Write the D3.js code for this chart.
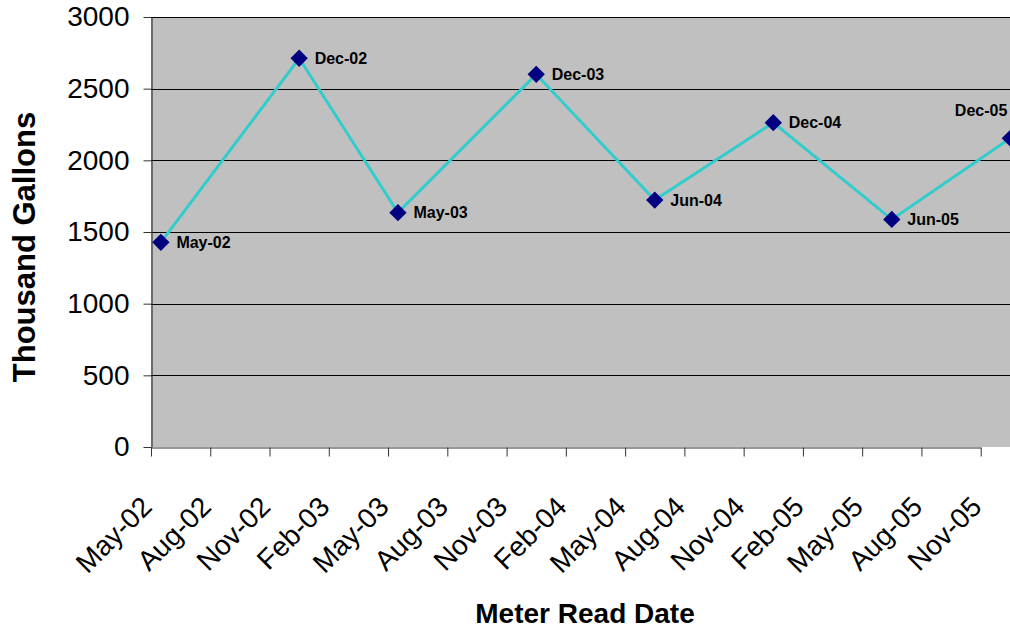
<!DOCTYPE html>
<html>
<head>
<meta charset="utf-8">
<script src="https://cdn.jsdelivr.net/npm/d3@7"></script>
<style>
  html, body { margin: 0; padding: 0; background: #fff; }
  svg { display: block; font-family: Arial, "Liberation Sans", sans-serif; }
</style>
</head>
<body>
<svg id="chart" width="1010" height="630"></svg>
<script>
// ---- data ----
const tickLabels = ["May-02", "Aug-02", "Nov-02", "Feb-03", "May-03", "Aug-03", "Nov-03",
                    "Feb-04", "May-04", "Aug-04", "Nov-04", "Feb-05", "May-05", "Aug-05", "Nov-05"];
const readDates = ["May-02", "Dec-02", "May-03", "Dec-03", "Jun-04", "Dec-04", "Jun-05", "Dec-05"];
const gallons   = [1428, 2712, 1635, 2600, 1723, 2263, 1588, 2154];
const yTicks    = [0, 500, 1000, 1500, 2000, 2500, 3000];

(function () {
// ---- helpers ----
const parse = d3.timeParse("%b-%y");
const base = parse("May-02");
const monthIndex = s => { const d = parse(s); return (d.getFullYear() - base.getFullYear()) * 12 + d.getMonth() - base.getMonth(); };

const W = 1010;
const pLeft = 151, pTop = 17, pBottom = 447;
const svg = d3.select("#chart");

const x = d3.scaleLinear().domain([0, 42]).range([pLeft, 980.7]);
const y = d3.scaleLinear().domain([0, 3000]).range([pBottom, pTop]);
const plotRight = x(46);

// plot background
svg.append("rect")
  .attr("x", pLeft).attr("y", pTop)
  .attr("width", plotRight - pLeft).attr("height", pBottom - pTop)
  .attr("fill", "#C0C0C0");

// gridlines
svg.append("g").selectAll("line").data(yTicks.filter(v => v > 0)).join("line")
  .attr("x1", pLeft).attr("x2", plotRight)
  .attr("y1", d => Math.round(y(d)) + 0.5).attr("y2", d => Math.round(y(d)) + 0.5)
  .attr("stroke", "#000").attr("stroke-width", 1);

// y axis
const yAxis = d3.axisLeft(y).tickValues(yTicks).tickSize(8).tickSizeOuter(0).tickPadding(14).tickFormat(d3.format("d"));
const gy = svg.append("g").attr("transform", `translate(${pLeft + 0.5},0)`).call(yAxis);
gy.select(".domain").attr("stroke", "#333").attr("stroke-width", 1.2);
gy.selectAll(".tick line").attr("stroke", "#333");
gy.selectAll(".tick text").attr("font-size", 28).attr("fill", "#000")
  .attr("font-family", "Arial, 'Liberation Sans', sans-serif");

// x axis
const xTickVals = tickLabels.map(monthIndex);
const xAxis = d3.axisBottom(x).tickValues(xTickVals).tickSize(9).tickSizeOuter(0).tickFormat((d, i) => tickLabels[i]);
const gx = svg.append("g").attr("transform", `translate(0,${pBottom + 0.5})`).call(xAxis);
gx.select(".domain").attr("stroke", "#333").attr("stroke-width", 1.2);
gx.selectAll(".tick line").attr("stroke", "#333");
gx.selectAll(".tick text")
  .attr("font-size", 28).attr("fill", "#000")
  .attr("font-family", "Arial, 'Liberation Sans', sans-serif")
  .attr("text-anchor", "end")
  .attr("dy", null).attr("y", null)
  .attr("transform", "translate(2,61) rotate(-45)");

// data
const pts = readDates.map((d, i) => ({ label: d, m: monthIndex(d) + 0.5, v: gallons[i] }));

svg.append("path")
  .datum(pts)
  .attr("fill", "none")
  .attr("stroke", "#33CCCC")
  .attr("stroke-width", 3)
  .attr("d", d3.line().x(d => x(d.m)).y(d => y(d.v)));

svg.append("g").selectAll("path").data(pts).join("path")
  .attr("d", d3.symbol().type(d3.symbolSquare).size(150))
  .attr("transform", d => `translate(${x(d.m)},${y(d.v)}) rotate(45)`)
  .attr("fill", "#000080");

svg.append("g").selectAll("text").data(pts).join("text")
  .attr("font-size", 16).attr("font-weight", "bold").attr("fill", "#000")
  .each(function (d) {
    const t = d3.select(this).text(d.label);
    const px = x(d.m), py = y(d.v);
    if (px + 15 + 55 > W) {
      t.attr("x", px - 3).attr("y", py - 28).attr("text-anchor", "end").attr("dominant-baseline", "central");
    } else {
      t.attr("x", px + 15.5).attr("y", py).attr("dominant-baseline", "central");
    }
  });

// axis titles
svg.append("text")
  .attr("x", 585).attr("y", 623)
  .attr("text-anchor", "middle")
  .attr("font-size", 28).attr("font-weight", "bold")
  .text("Meter Read Date");

svg.append("text")
  .attr("transform", "translate(35,247) rotate(-90)")
  .attr("text-anchor", "middle")
  .attr("font-size", 31).attr("font-weight", "bold")
  .text("Thousand Gallons");
})();
</script>
</body>
</html>
